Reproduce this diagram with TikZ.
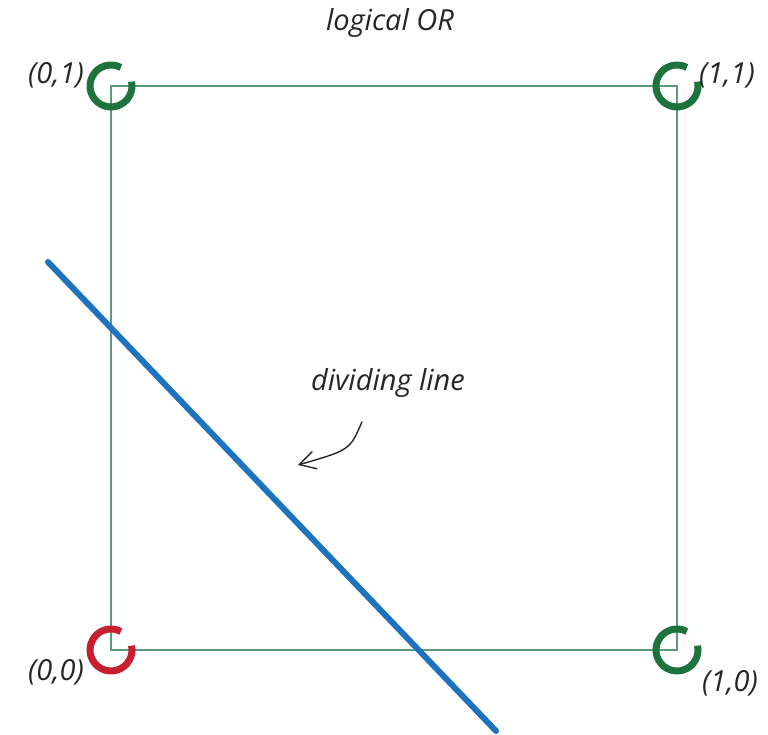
\documentclass[tikz,border=0pt]{standalone}
\usepackage{fontspec}
\setmainfont{Open Sans}
\usetikzlibrary{arrows.meta, positioning}
\definecolor{boxGreen}{RGB}{90,155,125}
\definecolor{ptGreen}{RGB}{30,115,60}
\definecolor{ptRed}{RGB}{200,30,50}
\definecolor{lineBlue}{RGB}{30,115,190}
\tikzset{
    font=\fontsize{29}{34}\selectfont\itshape,
    >=Stealth,
    % Shapes
    square/.style={draw=boxGreen, line width=1.8pt},
    ring/.style={line width=7pt},
    ringGreen/.style={ring, draw=ptGreen},
    ringRed/.style={ring, draw=ptRed},
    divider/.style={draw=lineBlue, line width=6pt, line cap=round},
    % Labels
    lbl/.style={inner sep=2pt, text=black!85},
    pointer/.style={-{Straight Barb[length=16pt, width=18pt]}, line width=1.4pt, black!85}
}
\begin{document}
\begin{tikzpicture}[x=1pt, y=1pt]
\useasboundingbox (0,0) rectangle (768,735);

% corners of the unit square
\coordinate (p00) at (111,85);
\coordinate (p10) at (677,85);
\coordinate (p01) at (111,649);
\coordinate (p11) at (677,649);

\draw[square] (p00) rectangle (p11);

% corner points
\draw[ringRed] ([shift={(62:21)}]p00) arc[start angle=62, end angle=372, radius=21];
\draw[ringGreen] ([shift={(62:21)}]p10) arc[start angle=62, end angle=372, radius=21];
\draw[ringGreen] ([shift={(62:21)}]p01) arc[start angle=62, end angle=372, radius=21];
\draw[ringGreen] ([shift={(62:21)}]p11) arc[start angle=62, end angle=372, radius=21];

\node[lbl, anchor=east] (l00) at (86,63) {(0,0)};
\node[lbl, anchor=west] (l10) at (700,52) {(1,0)};
\node[lbl, anchor=east] (l01) at (86,660) {(0,1)};
\node[lbl, anchor=west] (l11) at (697,660) {(1,1)};

\node[lbl] (title) at (390,712) {logical OR};

% dividing line
\coordinate (d1) at (48,473);
\coordinate (d2) at (496,4);
\draw[divider] (d1) -- (d2);

\node[lbl] (note) at (388,352) {dividing line};
\coordinate (tip) at (298,270);
\draw[pointer] ([shift={(-26,-22)}]note.south) .. controls (350,285) .. (tip);

\end{tikzpicture}
\end{document}
